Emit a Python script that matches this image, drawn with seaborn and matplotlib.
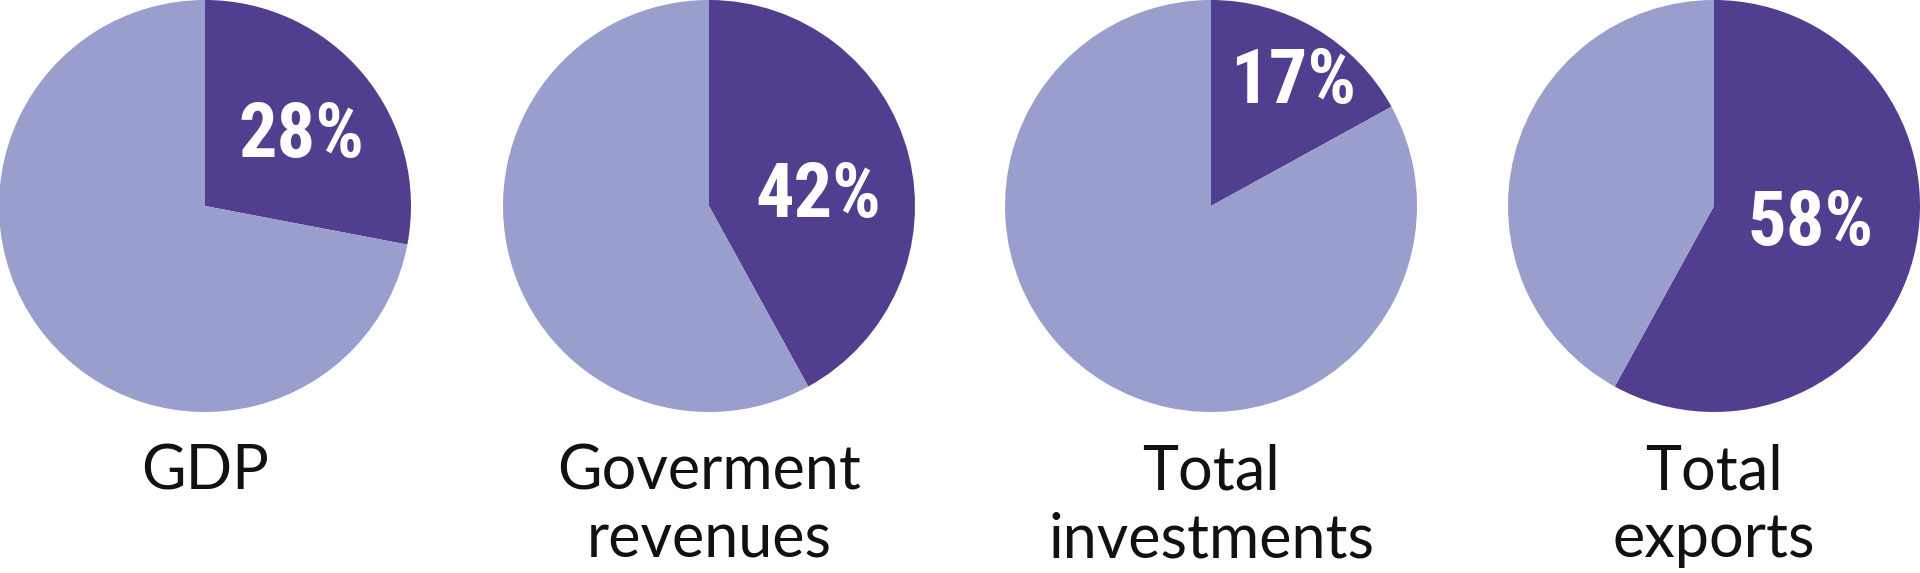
import matplotlib
matplotlib.use("Agg")
import matplotlib.pyplot as plt
import seaborn as sns

# share of each total (dark slice), rest is light
categories = ["GDP", "Goverment\nrevenues", "Total\ninvestments", "Total\nexports"]
shares = [28, 42, 17, 58]
pct_labels = ["28%", "42%", "17%", "58%"]

sns.set_theme(style="white")
dark, light = "#523E8E", "#9A9ECC"

W, H = 1920, 573
fig = plt.figure(figsize=(W / 100, H / 100), dpi=100)
fig.patch.set_facecolor("white")

centers_px = [205, 709, 1211, 1714]   # pie centre x in pixels
r = 206                                # pie radius in pixels
label_xy = [(0.47, 0.335), (0.53, 0.045), (0.40, 0.60), (0.47, -0.09)]

for i, cat in enumerate(categories):
    cx = centers_px[i]
    ax = fig.add_axes([(cx - r) / W, (H - 2 * r) / H, 2 * r / W, 2 * r / H])
    ax.pie([shares[i], 100 - shares[i]], colors=[dark, light], startangle=90,
           counterclock=False, radius=1, wedgeprops=dict(linewidth=0))
    ax.set_xlim(-1, 1)
    ax.set_ylim(-1, 1)
    ax.axis("off")
    lx, ly = label_xy[i]
    ax.text(lx, ly, pct_labels[i], color="white", fontsize=55, fontweight="bold",
            family=["Roboto Condensed", "Liberation Sans Narrow", "Roboto", "DejaVu Sans"],
            fontstretch="condensed", ha="center", va="center")

    lines = cat.split("\n")
    for j, line in enumerate(lines):
        base_px = 490 + j * 67
        fig.text(cx / W, (H - base_px) / H, line, fontsize=44, color="#111111",
                 family=["Lato", "Open Sans", "DejaVu Sans"], ha="center", va="baseline")

fig.savefig("out.png", dpi=100, facecolor="white")
